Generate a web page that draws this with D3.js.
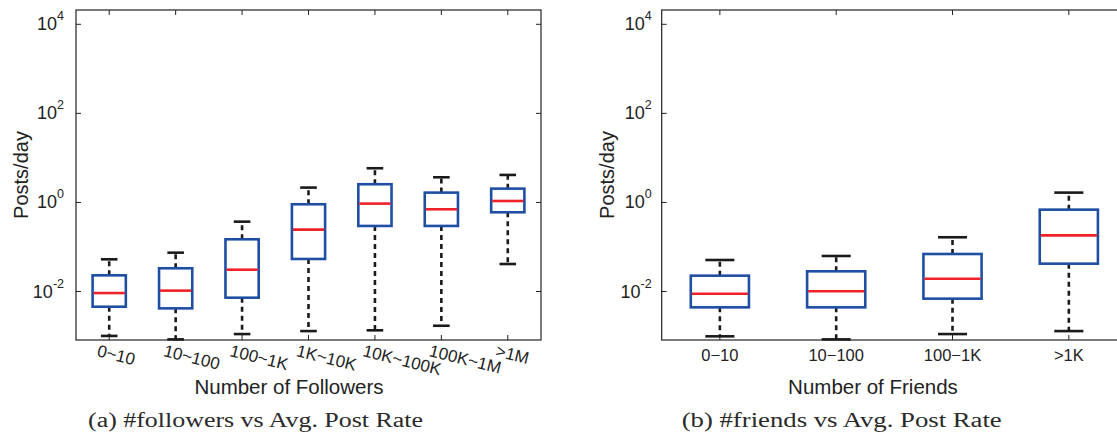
<!DOCTYPE html>
<html>
<head>
<meta charset="utf-8">
<script src="https://cdn.jsdelivr.net/npm/d3@7"></script>
<style>
  html, body { margin: 0; padding: 0; background: #fff; }
  svg { display: block; }
  text { font-family: "Liberation Sans", Arial, sans-serif; fill: #222; }
</style>
</head>
<body>
<svg id="chart" width="1117" height="441"></svg>
<script>
// ---------------- DATA ----------------
const followerCats = ["0~10", "10~100", "100~1K", "1K~10K", "10K~100K", "100K~1M", ">1M"];
const followerLow    = [0.00098, 0.00082, 0.00108, 0.00126, 0.00131, 0.00166, 0.0404];
const followerQ1     = [0.00444, 0.00408, 0.00708, 0.0524, 0.289, 0.289, 0.586];
const followerMedian = [0.0090, 0.0102, 0.0301, 0.239, 0.918, 0.684, 1.05];
const followerQ3     = [0.0225, 0.0324, 0.145, 0.887, 2.50, 1.62, 1.99];
const followerHigh   = [0.0515, 0.0726, 0.361, 2.10, 5.71, 3.58, 4.04];

const friendCats = ["0\u221210", "10\u2212100", "100\u22121K", ">1K"];
const friendLow    = [0.00096, 0.00082, 0.00108, 0.00126];
const friendQ1     = [0.0043, 0.0043, 0.00673, 0.0411];
const friendMedian = [0.0087, 0.00985, 0.0189, 0.178];
const friendQ3     = [0.0221, 0.0277, 0.0678, 0.671];
const friendHigh   = [0.0497, 0.0612, 0.161, 1.62];

const yTickExponents = [-2, 0, 2, 4];
const yLabel = "Posts/day";
const xTitleA = "Number of Followers";
const xTitleB = "Number of Friends";
const captionA = "(a) #followers vs Avg. Post Rate";
const captionB = "(b) #friends vs Avg. Post Rate";

// ---------------- DRAW ----------------
const svg = d3.select("#chart");
const BLUE = "#1f4fa3", RED = "#ee2228", BLACK = "#1a1a1a", AXIS = "#222";

function drawPanel(opt) {
  const {left, right, top, bottom, cats, low, q1, med, q3, high, rotated,
         yLabelX, tickLabelGap, xTitle, xTitleX, caption, captionX, captionLen} = opt;
  const g = svg.append("g");
  const x = d3.scaleBand().domain(cats).range([left, right])
              .paddingInner(0.5).paddingOuter(0.25);
  const y = d3.scaleLog().domain([Math.pow(10, -3.1), Math.pow(10, 4.31)]).range([bottom, top]);
  const tickVals = yTickExponents.map(e => Math.pow(10, e));

  // frame
  g.append("rect").attr("x", left).attr("y", top)
    .attr("width", right - left).attr("height", bottom - top)
    .attr("fill", "none").attr("stroke", AXIS).attr("stroke-width", 1.2);

  // y axes (ticks inward)
  const yl = g.append("g").attr("transform", `translate(${left},0)`)
    .call(d3.axisLeft(y).tickValues(tickVals).tickSize(-5).tickFormat(""));
  const yr = g.append("g").attr("transform", `translate(${right},0)`)
    .call(d3.axisRight(y).tickValues(tickVals).tickSize(-5).tickFormat(""));
  // x axes (ticks inward)
  const xb = g.append("g").attr("transform", `translate(0,${bottom})`)
    .call(d3.axisBottom(x).tickSizeInner(-5).tickSizeOuter(0).tickFormat(""));
  const xt = g.append("g").attr("transform", `translate(0,${top})`)
    .call(d3.axisTop(x).tickSizeInner(-5).tickSizeOuter(0).tickFormat(""));
  [yl, yr, xb, xt].forEach(a => {
    a.select(".domain").remove();
    a.selectAll("line").attr("stroke", AXIS).attr("stroke-width", 1);
  });

  // y tick labels with superscripts
  tickVals.forEach((v, i) => {
    const t = g.append("text")
      .attr("x", left - tickLabelGap).attr("y", y(v) + 6.5)
      .attr("text-anchor", "end").attr("font-size", 18);
    t.append("tspan").text("10");
    t.append("tspan").attr("dy", -10).attr("font-size", 12.5).text(yTickExponents[i]);
  });

  // x tick labels
  cats.forEach(c => {
    const cx = x(c) + x.bandwidth() / 2;
    if (rotated) {
      g.append("text").attr("transform", `translate(${cx - 13},${bottom + 16}) rotate(14)`)
        .attr("font-size", 17).text(c);
    } else {
      g.append("text").attr("x", cx).attr("y", bottom + 21)
        .attr("text-anchor", "middle").attr("font-size", 16.5).text(c);
    }
  });

  // y label
  g.append("text").attr("transform", `translate(${yLabelX},175) rotate(-90)`)
    .attr("text-anchor", "middle").attr("font-size", 20).text(yLabel);
  // x title
  g.append("text").attr("x", xTitleX).attr("y", 394)
    .attr("text-anchor", "middle").attr("font-size", 20.5).text(xTitle);
  // caption
  g.append("text").attr("x", captionX).attr("y", 427)
    .attr("text-anchor", "middle").attr("font-size", 20)
    .attr("textLength", captionLen).attr("lengthAdjust", "spacingAndGlyphs")
    .style("font-family", "'Liberation Serif', 'DejaVu Serif', serif")
    .style("fill", "#2a2a2a")
    .text(caption);

  // boxes
  const bw = x.bandwidth();
  cats.forEach((c, i) => {
    const x0 = x(c), cx = x0 + bw / 2;
    const capHalf = bw / 4;
    // whiskers
    g.append("line").attr("x1", cx).attr("x2", cx).attr("y1", y(q3[i])).attr("y2", y(high[i]))
      .attr("stroke", BLACK).attr("stroke-width", 2.6).attr("stroke-dasharray", "5,4");
    g.append("line").attr("x1", cx).attr("x2", cx).attr("y1", y(q1[i])).attr("y2", y(low[i]))
      .attr("stroke", BLACK).attr("stroke-width", 2.6).attr("stroke-dasharray", "5,4");
    // caps
    [high[i], low[i]].forEach(v => {
      g.append("line").attr("x1", cx - capHalf).attr("x2", cx + capHalf)
        .attr("y1", y(v)).attr("y2", y(v))
        .attr("stroke", BLACK).attr("stroke-width", 2.6);
    });
    // box
    g.append("rect").attr("x", x0).attr("y", y(q3[i]))
      .attr("width", bw).attr("height", y(q1[i]) - y(q3[i]))
      .attr("fill", "#fff").attr("stroke", BLUE).attr("stroke-width", 2.6);
    // median
    g.append("line").attr("x1", x0 + 1).attr("x2", x0 + bw - 1)
      .attr("y1", y(med[i])).attr("y2", y(med[i]))
      .attr("stroke", RED).attr("stroke-width", 2.6);
  });
}

drawPanel({
  left: 76, right: 541, top: 10, bottom: 340,
  cats: followerCats, low: followerLow, q1: followerQ1, med: followerMedian,
  q3: followerQ3, high: followerHigh, rotated: true,
  yLabelX: 28, tickLabelGap: 12, xTitle: xTitleA, xTitleX: 289,
  caption: captionA, captionX: 255.5, captionLen: 335
});

drawPanel({
  left: 661.7, right: 1127, top: 10, bottom: 340,
  cats: friendCats, low: friendLow, q1: friendQ1, med: friendMedian,
  q3: friendQ3, high: friendHigh, rotated: false,
  yLabelX: 614, tickLabelGap: 10, xTitle: xTitleB, xTitleX: 873,
  caption: captionB, captionX: 841.7, captionLen: 320
});
</script>
</body>
</html>
